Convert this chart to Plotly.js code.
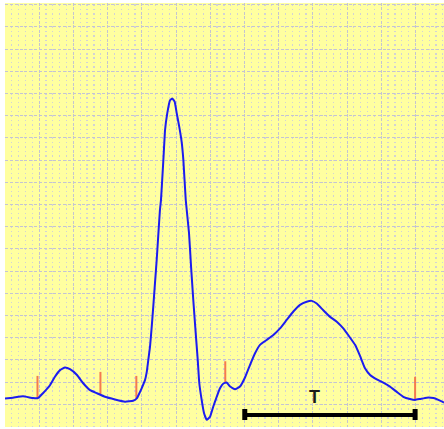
<!DOCTYPE html>
<html>
<head>
<meta charset="utf-8">
<script src="https://cdn.plot.ly/plotly-3.0.1.min.js"></script>
<style>
  html, body { margin: 0; padding: 0; background: #ffffff; }
  #chart { width: 444px; height: 429px; }
</style>
</head>
<body>
<div id="chart"></div>
<script>
// ECG trace: time in ms, amplitude in mV
const time_ms = [0, 47, 105, 164, 193, 222, 263, 292, 322, 351, 380, 421, 456, 497, 538, 585, 643, 702, 749, 772,
  781, 799, 819, 829, 838, 848, 858, 867, 877, 887, 897, 906, 912, 926, 936, 949, 965, 978, 992, 1004,
  1019, 1033, 1043, 1057, 1076, 1088, 1101, 1115, 1127, 1136, 1150, 1164, 1180, 1199, 1218, 1238, 1257, 1277, 1296, 1316,
  1345, 1374, 1404, 1433, 1462, 1491, 1530, 1569, 1608, 1647, 1686, 1725, 1764, 1794, 1823, 1861, 1901, 1940, 1978, 2018,
  2047, 2076, 2105, 2135, 2174, 2212, 2251, 2291, 2329, 2368, 2398, 2427, 2466, 2505, 2534, 2567];
const ecg_mV = [0.13, 0.15, 0.18, 0.14, 0.14, 0.25, 0.43, 0.62, 0.77, 0.83, 0.79, 0.66, 0.48, 0.32, 0.25, 0.17, 0.11, 0.06, 0.08, 0.14,
  0.21, 0.36, 0.55, 0.73, 1.00, 1.30, 1.75, 2.20, 2.73, 3.25, 3.85, 4.38, 4.60, 5.50, 6.18, 6.56, 6.85, 6.89, 6.82, 6.56,
  6.25, 5.91, 5.50, 4.60, 3.86, 3.10, 2.35, 1.61, 1.00, 0.48, 0.10, -0.20, -0.35, -0.28, -0.05, 0.17, 0.36, 0.47, 0.49, 0.40,
  0.34, 0.40, 0.61, 0.89, 1.15, 1.34, 1.45, 1.56, 1.71, 1.90, 2.09, 2.24, 2.31, 2.33, 2.27, 2.12, 1.97, 1.86, 1.71, 1.50,
  1.34, 1.09, 0.81, 0.66, 0.56, 0.49, 0.40, 0.28, 0.17, 0.12, 0.10, 0.12, 0.15, 0.14, 0.10, 0.04];

// Fiducial markers (orange ticks)
const markerTimes = [190, 558, 768, 1288, 2398];
const markerBase = [0.14, 0.23, 0.14, 0.48, 0.10];
const markerTop = [0.64, 0.73, 0.64, 0.97, 0.62];

// T interval bar
const intervalStart = 1392;
const intervalEnd = 2409;
const intervalCapStart = 1402;
const intervalCapEnd = 2398;
const intervalLevel = -0.241;
const intervalCapLow = -0.354;
const intervalCapHigh = -0.106;
const intervalLabel = 'T';
const intervalLabelTime = 1811;
const intervalLabelLevel = 0.16;

const mx = [], my = [];
markerTimes.forEach((t, i) => { mx.push(t, t, null); my.push(markerBase[i], markerTop[i], null); });

const traces = [
  {
    x: mx, y: my, type: 'scatter', mode: 'lines',
    line: { color: '#f47a50', width: 2 }, hoverinfo: 'skip', showlegend: false
  },
  {
    x: time_ms, y: ecg_mV, type: 'scatter', mode: 'lines',
    line: { color: '#1c1cf0', width: 2, shape: 'spline', smoothing: 0.35 }, showlegend: false
  },
  {
    x: [intervalStart, intervalEnd], y: [intervalLevel, intervalLevel], type: 'scatter', mode: 'lines',
    line: { color: '#000000', width: 4 }, hoverinfo: 'skip', showlegend: false
  },
  {
    x: [intervalCapStart, intervalCapStart, null, intervalCapEnd, intervalCapEnd],
    y: [intervalCapLow, intervalCapHigh, null, intervalCapLow, intervalCapHigh],
    type: 'scatter', mode: 'lines',
    line: { color: '#000000', width: 5 }, hoverinfo: 'skip', showlegend: false
  }
];

const layout = {
  width: 444, height: 429,
  margin: { l: 5, r: 0, t: 3, b: 2, pad: 0 },
  paper_bgcolor: '#ffffff',
  plot_bgcolor: '#ffffa0',
  showlegend: false,
  xaxis: {
    range: [0, 2567], dtick: 200, tick0: 0,
    showgrid: true, gridcolor: '#c4c4d2', gridwidth: 1, griddash: '3px,1.44px',
    minor: { dtick: 40, tick0: 0, showgrid: true, gridcolor: '#d2d2d6', gridwidth: 1.2, griddash: '0px,1.2px,1.5px,1.74px' },
    showticklabels: false, ticks: '', zeroline: false, showline: false, fixedrange: true
  },
  yaxis: {
    range: [-0.511, 9.04], dtick: 0.5, tick0: 0,
    showgrid: true, gridcolor: '#c4c4d2', gridwidth: 1, griddash: '3px,1.84px',
    showticklabels: false, ticks: '', zeroline: false, showline: false, fixedrange: true
  },
  annotations: [
    {
      x: intervalLabelTime, y: intervalLabelLevel, xref: 'x', yref: 'y',
      text: '<b>' + intervalLabel + '</b>', showarrow: false,
      font: { family: 'Liberation Sans, Arial, sans-serif', size: 18, color: '#1a1a1a' }
    }
  ]
};

Plotly.newPlot('chart', traces, layout, { displayModeBar: false, staticPlot: true });
</script>
</body>
</html>
